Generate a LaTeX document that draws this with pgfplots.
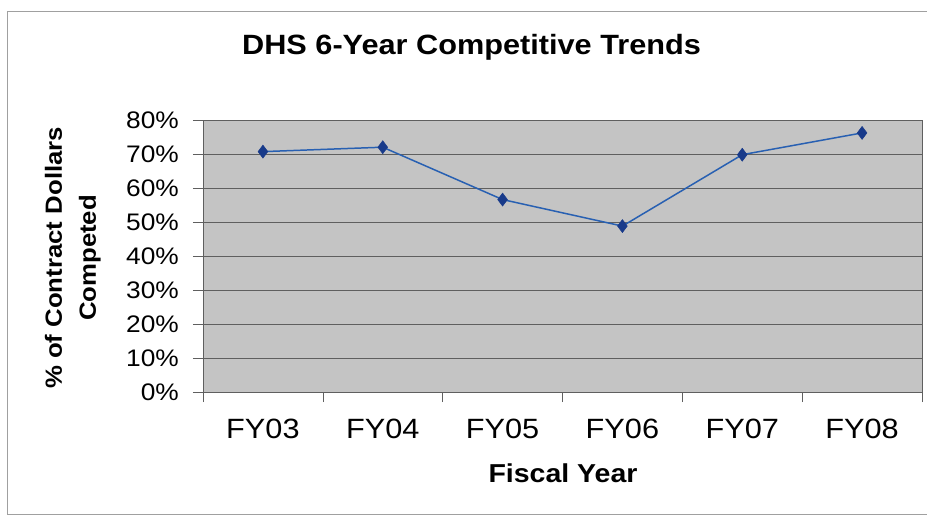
\documentclass[border=0pt]{standalone}
\usepackage{pgfplots}
\pgfplotsset{compat=1.18}
\usepackage{fontspec}
\setmainfont[FakeStretch=1.1]{Liberation Sans}

\definecolor{plotgray}{RGB}{196,196,196}
\definecolor{gridgray}{RGB}{95,95,95}
\definecolor{linecol}{RGB}{40,96,178}
\definecolor{markcol}{RGB}{24,58,138}
\definecolor{framegray}{RGB}{160,160,160}

\begin{document}
\begin{tikzpicture}
  \begin{axis}[
    at={(0,0)}, anchor=south west,
    scale only axis,
    width=719bp, height=272bp,
    xmin=-0.5, xmax=5.5,
    ymin=0, ymax=80,
    axis background/.style={fill=plotgray},
    axis line style={gridgray, line width=0.6pt},
    xtick={0,1,2,3,4,5},
    xticklabels={FY03,FY04,FY05,FY06,FY07,FY08},
    major x tick style={draw=none},
    minor xtick={-0.5,0.5,1.5,2.5,3.5,4.5,5.5},
    minor x tick style={gridgray, line width=0.6pt},
    minor tick length=10bp,
    ytick={0,10,...,80},
    yticklabel={\pgfmathprintnumber{\tick}\%},
    ymajorgrids,
    grid style={gridgray, line width=0.6pt},
    major y tick style={gridgray, line width=0.6pt},
    major tick length=10bp,
    tick align=outside,
    axis x line*=bottom,
    axis y line*=left,
    /pgf/number format/assume math mode=true,
    yticklabel style={font=\fontsize{24}{24}\selectfont, anchor=east, inner sep=0pt, xshift=-14bp},
    xticklabel style={font=\fontsize{28}{28}\selectfont, anchor=center, inner sep=0pt, yshift=-27bp},
    title={\textbf{DHS 6-Year Competitive Trends}},
    title style={font=\fontsize{28}{28}\selectfont, at={(axis description cs:0.3735,1.276)}, anchor=center, yshift=-8bp},
    xlabel={\textbf{Fiscal Year}},
    xlabel style={font=\fontsize{26}{26}\selectfont, at={(axis description cs:0.5007,-0.298)}, anchor=center},
    ylabel={\textbf{\% of Contract Dollars}\\\textbf{Competed}},
    ylabel style={font=\fontsize{23.5}{34}\selectfont, align=center, rotate=0, at={(axis description cs:-0.181,0.493)}, anchor=center},
    clip=false,
  ]
  \addplot[color=linecol, line width=1.5pt, mark=diamond*, mark size=6.5bp,
    mark options={fill=markcol, draw=markcol, line width=0.5pt}] coordinates {
    (0, 70.7)
    (1, 72.0)
    (2, 56.6)
    (3, 48.8)
    (4, 69.8)
    (5, 76.2)
  };
  % plot frame top and right
  \draw[gridgray, line width=0.6pt] (rel axis cs:0,1) -- (rel axis cs:1,1) -- (rel axis cs:1,0);
  \end{axis}
  % outer chart frame
  \draw[framegray, line width=0.8pt] (927bp-203bp,381bp) -- (-196bp,381bp) -- (-196bp,-122bp) -- (927bp-203bp,-122bp);
  \pgfresetboundingbox
  \path (-203bp,-124bp) rectangle (724bp,392bp);
\end{tikzpicture}
\end{document}
